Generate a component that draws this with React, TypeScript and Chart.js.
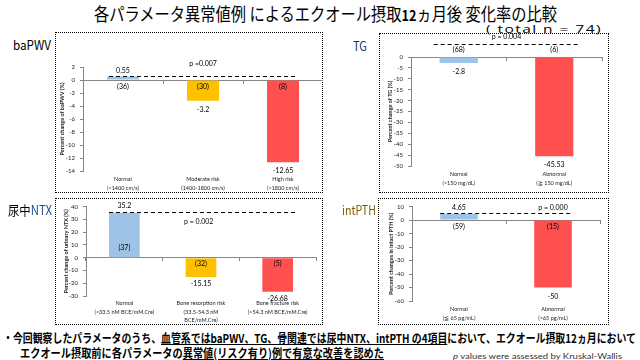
import React, { useEffect, useLayoutEffect, useRef } from "react";
import { Chart, registerables } from "chart.js";

Chart.register(...registerables);

const FONT = "Lato, 'Liberation Sans', sans-serif";
const JP = "'Noto Sans CJK JP', 'Noto Sans', sans-serif";

// ---------- data ----------
const bapwvCategories = [["Normal", "(<1400 cm/s)"], ["Moderate risk", "(1400-1800 cm/s)"], ["High risk", "(>1800 cm/s)"]];
const bapwvValues = [0.55, -3.2, -12.65];
const bapwvCounts = [36, 30, 8];
const bapwvP = "p =0.007";

const tgCategories = [["Normal", "(<150 mg/dL)"], ["Abnormal", "(≧ 150 mg/dL)"]];
const tgValues = [-2.8, -45.53];
const tgCounts = [68, 6];
const tgP = "p = 0.004";

const ntxCategories = [
  ["Normal", "(<33.5 nM BCE/mM.Cre)"],
  ["Bone resorption risk", "(33.5-54.3 nM", "BCE/mM.Cre)"],
  ["Bone fracture risk", "(>54.3 nM BCE/mM.Cre)"],
];
const ntxValues = [35.2, -15.15, -26.68];
const ntxCounts = [37, 32, 5];
const ntxP = "p = 0.002";

const pthCategories = [["Normal", "(≦ 65 pg/mL)"], ["Abnormal", "(>65 pg/mL)"]];
const pthValues = [4.65, -50];
const pthCounts = [59, 15];
const pthP = "p = 0.000";

// ---------- styles ----------
const BLUE = "#9DC3E6";
const ORANGE = "#FFC000";
const RED = "#FF5050";
const AXIS = "#868686";

type Box = { l: number; t: number; r: number; b: number };
type PanelCfg = {
  key: string;
  categories: string[][];
  values: number[];
  counts: number[];
  colors: string[];
  yMin: number;
  yMax: number;
  yStep: number;
  yTitle: string;
  pText: string;
  box: Box;
  area: Box;
  titlePad: number;
  xPad: number;
  posGap: number;
  negGap: number;
  countDy: number[];
  lineValue: number;
  lineExt: [number, number];
  pValueY: number;
  pIndex: number;
};

const panels: PanelCfg[] = [
  {
    key: "bapwv", categories: bapwvCategories, values: bapwvValues, counts: bapwvCounts,
    colors: [BLUE, ORANGE, RED], yMin: -14, yMax: 2, yStep: 2,
    yTitle: "Percent change of baPWV (%)", pText: bapwvP,
    box: { l: 55, t: 32, r: 323, b: 193 }, area: { l: 83, t: 67, r: 323, b: 171 },
    titlePad: 4, xPad: 4, posGap: 6, negGap: 9, countDy: [7, 7, 7],
    lineValue: 0.62, lineExt: [-2, -2], pValueY: 2.46, pIndex: 1,
  },
  {
    key: "tg", categories: tgCategories, values: tgValues, counts: tgCounts,
    colors: [BLUE, RED], yMin: -50, yMax: 0, yStep: 5,
    yTitle: "Percent change of TG (%)", pText: tgP,
    box: { l: 379, t: 33, r: 609, b: 193 }, area: { l: 411, t: 57, r: 602, b: 166 },
    titlePad: 8, xPad: 4, posGap: 6, negGap: 8.5, countDy: [-7, -7],
    lineValue: 6, lineExt: [6, 6], pValueY: 9.2, pIndex: 0.5,
  },
  {
    key: "ntx", categories: ntxCategories, values: ntxValues, counts: ntxCounts,
    colors: [BLUE, ORANGE, RED], yMin: -30, yMax: 40, yStep: 10,
    yTitle: "Percent change of urinary NTX (%)", pText: ntxP,
    box: { l: 55, t: 198, r: 323, b: 325 }, area: { l: 86, t: 205, r: 316, b: 296 },
    titlePad: 8, xPad: 3, posGap: 7, negGap: 7, countDy: [-10, 6, 6],
    lineValue: 35.4, lineExt: [0, 4], pValueY: 28.5, pIndex: 0.97,
  },
  {
    key: "pth", categories: pthCategories, values: pthValues, counts: pthCounts,
    colors: [BLUE, RED], yMin: -60, yMax: 10, yStep: 10,
    yTitle: "Percent changes in intact PTH (%)", pText: pthP,
    box: { l: 378, t: 198, r: 609, b: 325 }, area: { l: 412, t: 204, r: 600, b: 301 },
    titlePad: 10, xPad: 4, posGap: 6.5, negGap: 9, countDy: [7, 7],
    lineValue: 5.06, lineExt: [0, 0], pValueY: 9.4, pIndex: 1,
  },
];

const labelPlugin = {
  id: "panelLabels",
  afterDatasetsDraw(chart: any, _args: any, opts: any) {
    const p: PanelCfg = opts.cfg;
    if (!p) return;
    const { ctx } = chart;
    const meta = chart.getDatasetMeta(0);
    const y = chart.scales.y;
    const x = chart.scales.x;
    const zero = y.getPixelForValue(0);
    ctx.save();
    ctx.fillStyle = "#000";
    ctx.textAlign = "center";
    ctx.textBaseline = "middle";
    ctx.font = `7px ${FONT}`;
    meta.data.forEach((bar: any, i: number) => {
      const v = p.values[i];
      const vy = v >= 0 ? bar.y - p.posGap : bar.y + p.negGap;
      ctx.fillText(String(v), bar.x, vy);
      ctx.fillText(`(${p.counts[i]})`, bar.x, zero + p.countDy[i]);
    });
    const first = meta.data[0];
    const last = meta.data[meta.data.length - 1];
    const ly = Math.round(y.getPixelForValue(p.lineValue)) + 0.5;
    ctx.strokeStyle = "#000";
    ctx.lineWidth = 1;
    ctx.setLineDash([4, 3]);
    ctx.beginPath();
    ctx.moveTo(first.x - first.width / 2 - p.lineExt[0], ly);
    ctx.lineTo(last.x + last.width / 2 + p.lineExt[1], ly);
    ctx.stroke();
    ctx.setLineDash([]);
    ctx.fillText(p.pText, x.getPixelForValue(p.pIndex), y.getPixelForValue(p.pValueY));
    ctx.restore();
  },
};

function PanelChart({ p }: { p: PanelCfg }) {
  const ref = useRef<HTMLCanvasElement>(null);
  const W = p.box.r - p.box.l;
  const H = p.box.b - p.box.t;
  useEffect(() => {
    const tickFont = { family: FONT, size: 6 };
    const chart = new Chart(ref.current!, {
      type: "bar",
      data: {
        labels: p.categories,
        datasets: [{
          data: p.values,
          backgroundColor: p.colors,
          borderWidth: 0,
          categoryPercentage: 1,
          barPercentage: 0.4,
        }],
      },
      options: {
        animation: false,
        responsive: false,
        maintainAspectRatio: false,
        layout: { padding: { top: p.area.t - p.box.t, right: p.box.r - p.area.r, left: 0, bottom: 0 } },
        plugins: {
          legend: { display: false },
          tooltip: { enabled: false },
          panelLabels: { cfg: p },
        } as any,
        scales: {
          x: {
            type: "category",
            position: "bottom",
            offset: true,
            grid: { display: false, drawTicks: false },
            border: { display: false },
            ticks: {
              font: { family: FONT, size: 5.5, lineHeight: 1.55 },
              color: "#222",
              padding: p.xPad,
              maxRotation: 0,
              minRotation: 0,
              autoSkip: false,
            },
            afterFit: (s: any) => { s.height = p.box.b - p.area.b; },
          },
          x2: {
            type: "category",
            position: { y: 0 },
            offset: true,
            grid: { display: true, drawOnChartArea: false, drawTicks: true, tickLength: 3, color: AXIS, offset: true },
            border: { display: true, color: AXIS, width: 1 },
            ticks: { display: false },
          },
          y: {
            type: "linear",
            position: "left",
            min: p.yMin,
            max: p.yMax,
            ticks: { stepSize: p.yStep, font: tickFont, color: "#222", padding: 5 },
            grid: { display: true, drawOnChartArea: false, drawTicks: true, tickLength: 3, color: AXIS },
            border: { display: true, color: AXIS, width: 1 },
            title: {
              display: true,
              text: p.yTitle,
              font: { family: FONT, size: 5.5, weight: "bold" },
              color: "#222",
              padding: { top: p.titlePad, bottom: 0 },
            },
            afterFit: (s: any) => { s.width = p.area.l - p.box.l; },
          },
        } as any,
      },
      plugins: [labelPlugin as any],
    });
    return () => chart.destroy();
  }, []);
  return (
    <canvas
      ref={ref}
      width={W}
      height={H}
      style={{ position: "absolute", left: p.box.l, top: p.box.t, width: W, height: H }}
    />
  );
}

function FitText({ x, y, w, h, style, children }: any) {
  const ref = useRef<HTMLSpanElement>(null);
  useLayoutEffect(() => {
    const fit = () => {
      const el = ref.current;
      if (!el) return;
      el.style.transform = "none";
      const nat = el.getBoundingClientRect().width;
      if (nat > 0) el.style.transform = `scaleX(${w / nat})`;
    };
    fit();
    const fonts = (document as any).fonts;
    if (fonts && fonts.ready) fonts.ready.then(fit);
  }, [w]);
  return (
    <div style={{ position: "absolute", left: x, top: y - h / 2, height: h, lineHeight: `${h}px`, whiteSpace: "nowrap" }}>
      <span ref={ref} style={{ display: "inline-block", transformOrigin: "0 50%", ...style }}>{children}</span>
    </div>
  );
}

export default function App() {
  const u = { textDecoration: "underline" };
  return (
    <div style={{ position: "fixed", left: 0, top: 0, width: 640, height: 360, background: "#fff", overflow: "hidden", fontFamily: JP, color: "#000" }}>
      <FitText x={94} y={13} w={463} h={24} style={{ fontSize: 18 }}>
        各パラメータ異常値例 によるエクオール摂取<span style={{ fontWeight: 700, fontSize: 15 }}>12</span>ヵ月後 変化率の比較
      </FitText>
      <FitText x={486} y={26} w={116} h={14} style={{ fontSize: 11, letterSpacing: "1px", fontFamily: "'Open Sans', 'Noto Sans', sans-serif" }}>( total n = 74)</FitText>

      {panels.map((p) => (
        <div
          key={"box-" + p.key}
          style={{
            position: "absolute", left: p.box.l, top: p.box.t,
            width: p.box.r - p.box.l, height: p.box.b - p.box.t,
            border: "1px dotted #000", boxSizing: "border-box",
          }}
        />
      ))}
      {panels.map((p) => <PanelChart key={p.key} p={p} />)}

      <FitText x={13} y={43} w={38} h={18} style={{ fontSize: 13 }}>baPWV</FitText>
      <FitText x={353} y={44} w={14} h={18} style={{ fontSize: 13, color: "#17375E" }}>TG</FitText>
      <FitText x={8} y={208} w={44} h={18} style={{ fontSize: 13 }}>
        尿中<span style={{ color: "#1F4E8F" }}>NTX</span>
      </FitText>
      <FitText x={342} y={208} w={34} h={18} style={{ fontSize: 13, color: "#7F6000" }}>intPTH</FitText>

      <FitText x={3} y={336} w={633} h={16} style={{ fontSize: 12, fontWeight: 700 }}>
        ・今回観察したパラメータのうち、<span style={u}>血管系ではbaPWV、TG、骨関連では尿中NTX、intPTH の4項目</span>において、エクオール摂取12ヵ月において
      </FitText>
      <FitText x={20} y={351} w={364} h={16} style={{ fontSize: 12, fontWeight: 700 }}>
        エクオール摂取前に各パラメータの<span style={u}>異常値(リスク有り)例で有意な改善を認めた</span>
      </FitText>
      <FitText x={453} y={352} w={169} h={12} style={{ fontSize: 8, color: "#333", fontFamily: FONT }}>
        <i>p</i> values were assessed by Kruskal-Wallis
      </FitText>
    </div>
  );
}
